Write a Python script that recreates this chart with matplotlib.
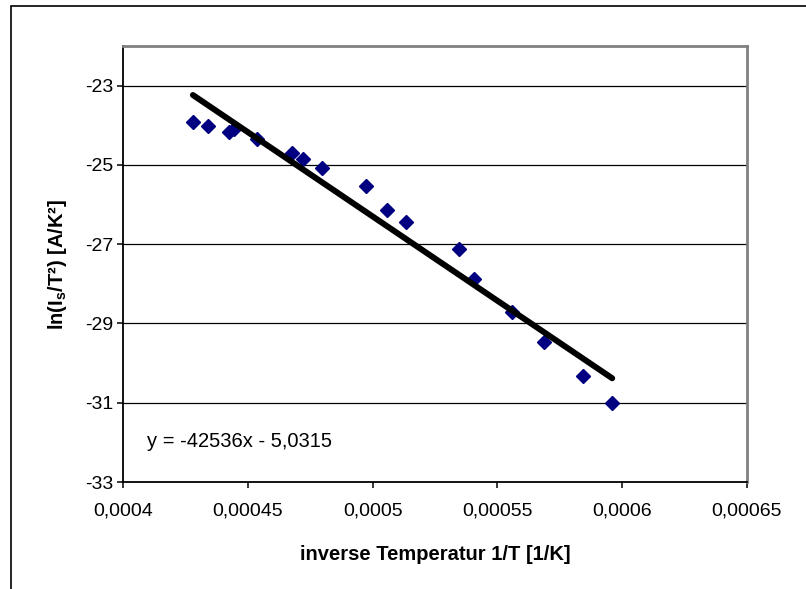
import numpy as np
import matplotlib
matplotlib.use("Agg")
import matplotlib.pyplot as plt
from matplotlib.patches import Rectangle

plt.rcParams['font.family'] = ['Liberation Sans', 'DejaVu Sans']
plt.rcParams['mathtext.fontset'] = 'custom'
plt.rcParams['mathtext.rm'] = 'Liberation Sans'
plt.rcParams['mathtext.bf'] = 'Liberation Sans:bold'
plt.rcParams['axes.unicode_minus'] = False

# data
inv_temp = [0.000428, 0.000434, 0.0004425, 0.0004445, 0.0004536, 0.0004676,
            0.000472, 0.0004796, 0.0004972, 0.0005059, 0.0005134, 0.0005347,
            0.0005406, 0.0005557, 0.0005687, 0.0005844, 0.000596]
ln_is_t2 = [-23.93, -24.03, -24.18, -24.10, -24.35, -24.70,
            -24.85, -25.08, -25.53, -26.13, -26.44, -27.12,
            -27.87, -28.70, -29.46, -30.33, -31.00]

# trendline from the chart
slope = -42536
intercept = -5.0315

x_ticks = [0.0004, 0.00045, 0.0005, 0.00055, 0.0006, 0.00065]
x_tick_labels = ["0,0004", "0,00045", "0,0005", "0,00055", "0,0006", "0,00065"]
y_ticks = [-33, -31, -29, -27, -25, -23]

W, H = 806, 589
fig = plt.figure(figsize=(W / 100, H / 100), dpi=100)
ax = fig.add_axes([123 / W, 1 - 482 / H, 624 / W, 436 / H])

# outer chart frame (cut off at right/bottom)
fig.patches.append(Rectangle((10.5 / W, -0.5), 2, 1.5 - 5.5 / H,
                             transform=fig.transFigure, fill=False,
                             edgecolor='black', linewidth=1.2))

ax.set_xlim(0.0004, 0.00065)
ax.set_ylim(-33, -22)

for yv in y_ticks[1:]:
    ax.axhline(yv, color='black', linewidth=0.9, zorder=1)

ax.plot(inv_temp, ln_is_t2, linestyle='none', marker='D', markersize=7,
        color='#000080', zorder=3)

xs = np.array([min(inv_temp), max(inv_temp)])
ax.plot(xs, slope * xs + intercept, color='black', linewidth=4.3,
        solid_capstyle='round', zorder=4)

ax.text(0.0385, 0.094, "y = -42536x - 5,0315", transform=ax.transAxes,
        fontsize=14.5, ha='left', va='center')

ax.set_xticks(x_ticks)
ax.set_xticklabels(x_tick_labels)
ax.set_yticks(y_ticks)
ax.tick_params(axis='x', direction='out', length=4, width=1.1, pad=11, labelsize=14)
ax.tick_params(axis='y', direction='out', length=4, width=1.1, pad=3, labelsize=14)

ax.spines['left'].set_color('black')
ax.spines['bottom'].set_color('black')
ax.spines['left'].set_linewidth(1.3)
ax.spines['bottom'].set_linewidth(1.3)
for s in ['top', 'right']:
    ax.spines[s].set_color('#808080')
    ax.spines[s].set_linewidth(2)

ax.set_xlabel("inverse Temperatur 1/T [1/K]", fontsize=14.5, fontweight='bold')
ax.xaxis.set_label_coords(0.5, -0.145)
ax.set_ylabel(r"ln(I$_\mathbf{s}$/T²) [A/K²]", fontsize=14.5, fontweight='bold')
ax.yaxis.set_label_coords(-0.087, 0.5)

fig.savefig("out.png", dpi=100)
